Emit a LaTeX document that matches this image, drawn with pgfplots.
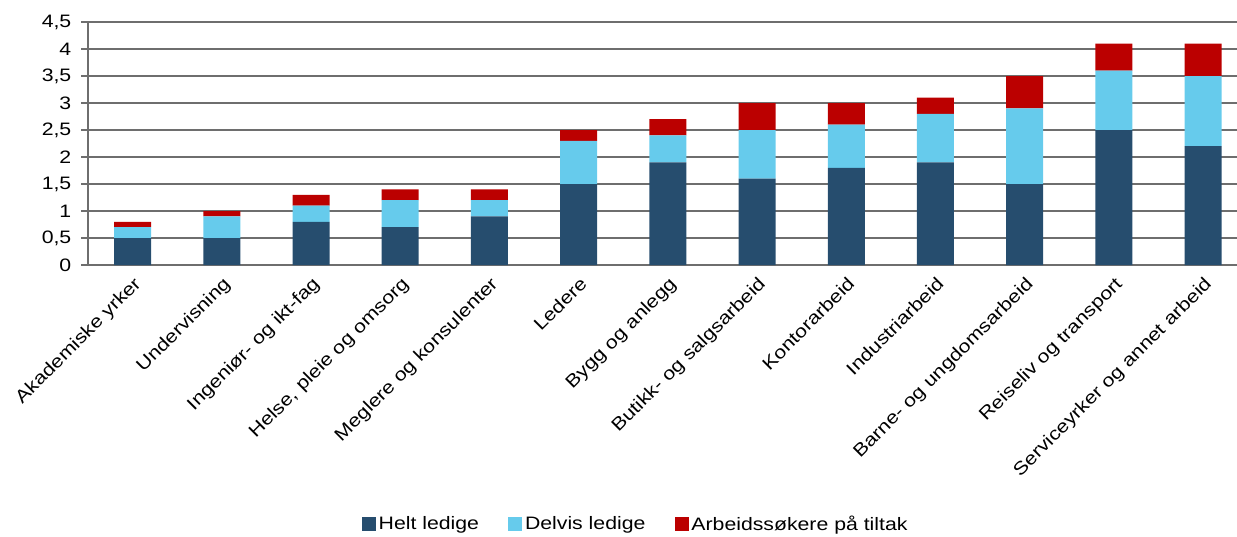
\documentclass[border=0pt]{standalone}
\usepackage{fontspec}
\setmainfont[FakeStretch=1.18]{Liberation Sans}
\usepackage{pgfplots}
\pgfplotsset{compat=1.18}
\definecolor{helt}{HTML}{264D6E}
\definecolor{delvis}{HTML}{66CBEC}
\definecolor{tiltak}{HTML}{BB0000}
\definecolor{gridc}{HTML}{6E6E6E}
\begin{document}
\begin{tikzpicture}
\begin{axis}[
    width=861.75pt, height=182.25pt,
    scale only axis,
    ybar stacked,
    bar width=27.75pt,
    xmin=-0.5, xmax=12.38,
    ymin=0, ymax=4.5,
    ytick={0,0.5,...,4.5},
    xtick={0,...,12},
    xticklabels={Akademiske yrker, Undervisning, Ingeniør- og ikt-fag, {Helse, pleie og omsorg}, Meglere og konsulenter, Ledere, Bygg og anlegg, Butikk- og salgsarbeid, Kontorarbeid, Industriarbeid, Barne- og ungdomsarbeid, Reiseliv og transport, Serviceyrker og annet arbeid},
    xticklabel style={rotate=45, anchor=north east, font=\fontsize{13.5}{15}\selectfont, inner sep=2pt},
    yticklabel style={font=\fontsize{13.5}{15}\selectfont, xshift=-4pt},
    /pgf/number format/assume math mode=true,
    /pgf/number format/use comma,
    yticklabel={\pgfmathprintnumber[fixed, precision=1]{\tick}},
    axis x line=bottom, axis y line=left,
    axis line style={-, gridc, line width=1.1pt},
    x tick style={draw=none},
    y tick style={gridc, line width=1pt},
    tick align=outside,
    major tick length=5pt,
    ymajorgrids=true,
    grid style={gridc, line width=1.1pt},
    legend style={at={(0.477,-1.066)}, anchor=center, draw=none, font=\fontsize{13.5}{15}\selectfont, legend columns=3, /tikz/every even column/.append style={column sep=20pt}, nodes={inner xsep=2pt}},
    legend image code/.code={\fill[#1] (0pt,-5pt) rectangle (10.5pt,5.5pt);},
    clip=false,
]
\addplot[fill=helt, draw=none] coordinates {(0,0.5)(1,0.5)(2,0.8)(3,0.7)(4,0.9)(5,1.5)(6,1.9)(7,1.6)(8,1.8)(9,1.9)(10,1.5)(11,2.5)(12,2.2)};
\addplot[fill=delvis, draw=none] coordinates {(0,0.2)(1,0.4)(2,0.3)(3,0.5)(4,0.3)(5,0.8)(6,0.5)(7,0.9)(8,0.8)(9,0.9)(10,1.4)(11,1.1)(12,1.3)};
\addplot[fill=tiltak, draw=none] coordinates {(0,0.1)(1,0.1)(2,0.2)(3,0.2)(4,0.2)(5,0.2)(6,0.3)(7,0.5)(8,0.4)(9,0.3)(10,0.6)(11,0.5)(12,0.6)};
\legend{Helt ledige, Delvis ledige, Arbeidssøkere på tiltak}
\end{axis}
\pgfresetboundingbox
\path[use as bounding box] (-66pt,-203.25pt) rectangle (861.75pt,198.75pt);
\end{tikzpicture}
\end{document}
